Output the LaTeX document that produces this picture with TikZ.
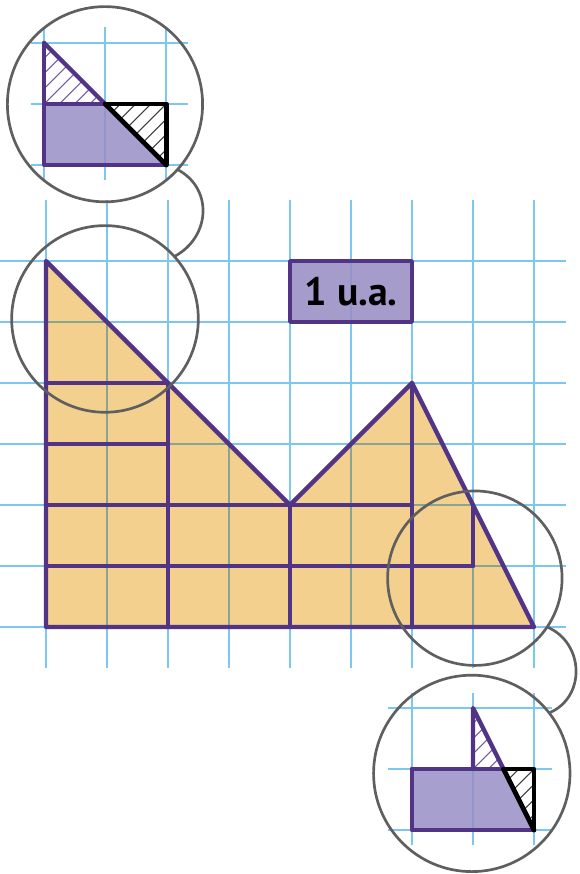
\documentclass[tikz,border=0pt]{standalone}
\usepackage{fontspec}
\setmainfont{PT Sans}
\definecolor{gridblue}{RGB}{125,198,240}
\definecolor{gridin}{RGB}{135,165,145}
\definecolor{pur}{RGB}{82,52,135}
\definecolor{lav}{RGB}{152,142,197}
\definecolor{ora}{RGB}{243,208,142}
\definecolor{ring}{RGB}{95,95,95}
\definecolor{hatchp}{RGB}{110,90,165}
\definecolor{hatchk}{RGB}{60,60,60}
\tikzset{
  gridline/.style={draw=gridblue, line width=0.7pt},
  gridinner/.style={draw=gridin, line width=0.7pt},
  purline/.style={draw=pur, line width=2pt, line cap=round},
  blackline/.style={draw=black, line width=2.2pt, line cap=round},
  hatchpur/.style={draw=hatchp, line width=0.5pt},
  hatchblk/.style={draw=hatchk, line width=0.5pt},
  magring/.style={circle, draw=ring, line width=1.25pt, inner sep=0pt, outer sep=0pt},
  insetring/.style={circle, draw=ring, line width=1.25pt, inner sep=0pt, outer sep=0pt},
  ringline/.style={draw=ring, line width=1.25pt},
  labelbox/.style={draw=pur, line width=1.7pt, fill=lav, fill opacity=0.88, text opacity=1,
    minimum width=2cm, minimum height=1cm, inner sep=0pt, font=\fontsize{18.5}{20}\selectfont\bfseries, text=black}
}
\begin{document}
\begin{tikzpicture}[x=1cm,y=1cm,line join=round]
\useasboundingbox (-0.7541,-4.0492) rectangle (8.7541,10.2787);

% main grid
\foreach \i in {0,...,8} \draw[gridline] (\i,-0.68) -- (\i,7.0);
\foreach \j in {0,...,6} \draw[gridline] (-0.76,\j) -- (8.52,\j);

% main shape
\fill[ora] (0,6) -- (4,2) -- (6,4) -- (8,0) -- (0,0) -- cycle;
\begin{scope}
  \clip (0,6) -- (4,2) -- (6,4) -- (8,0) -- (0,0) -- cycle;
  \foreach \i in {0,...,8} \draw[gridinner] (\i,-0.68) -- (\i,7.0);
  \foreach \j in {0,...,6} \draw[gridinner] (-0.76,\j) -- (8.52,\j);
\end{scope}
\draw[purline] (0,4) -- (2,4);
\draw[purline] (0,3) -- (2,3);
\draw[purline] (0,2) -- (6,2);
\draw[purline] (0,1) -- (7,1);
\draw[purline] (2,0) -- (2,4);
\draw[purline] (4,0) -- (4,2);
\draw[purline] (6,0) -- (6,4);
\draw[purline] (7,1) -- (7,2);
\draw[purline] (0,6) -- (4,2) -- (6,4) -- (8,0) -- (0,0) -- cycle;

% label
\node[labelbox] (ua) at (5,5.5) {1 u.a.};

% magnifier rings on the figure
\node[magring, minimum size=3.06cm] (m1) at (0.967,5.05) {};
\node[magring, minimum size=2.86cm] (m2) at (7.03,0.80) {};

% top inset
\begin{scope}[shift={(-0.03,7.574)}]
  \foreach \i in {0,1,2} \draw[gridline] (\i,-0.25) -- (\i,2.26);
  \foreach \j in {0,1,2} \draw[gridline] (-0.22,\j) -- (2.35,\j);
  \fill[lav, fill opacity=0.85] (0,0) -- (2,0) -- (1,1) -- (0,1) -- cycle;
  \begin{scope}
    \clip (0,2) -- (0,1) -- (1,1) -- cycle;
    \foreach \k in {-2.25,-2,...,2.25} \draw[hatchpur] (\k,0) -- ++(3,3);
  \end{scope}
  \begin{scope}
    \clip (1,1) -- (2,1) -- (2,0) -- cycle;
    \foreach \k in {-2.25,-2,...,2.25} \draw[hatchblk] (\k,0) -- ++(3,3);
  \end{scope}
  \draw[purline] (0,2) -- (0,0) -- (2,0);
  \draw[purline] (0,1) -- (1,1);
  \draw[purline] (0,2) -- (1,1);
  \draw[blackline] (1,1) -- (2,1) -- (2,0);
  \draw[blackline] (1,1) -- (2,0);
\end{scope}
\node[insetring, minimum size=3.2cm] (i1) at (0.967,8.57) {};

% bottom inset
\begin{scope}[shift={(6,-3.328)}]
  \foreach \i in {0,1,2} \draw[gridline] (\i,-0.25) -- (\i,2.25);
  \foreach \j in {0,1,2} \draw[gridline] (-0.4,\j) -- (2.3,\j);
  \fill[lav, fill opacity=0.85] (0,0) -- (2,0) -- (1.5,1) -- (0,1) -- cycle;
  \begin{scope}
    \clip (1,2) -- (1,1) -- (1.5,1) -- cycle;
    \foreach \k in {-2.25,-2,...,2.25} \draw[hatchpur] (\k,0) -- ++(3,3);
  \end{scope}
  \begin{scope}
    \clip (1.5,1) -- (2,1) -- (2,0) -- cycle;
    \foreach \k in {-2.25,-2,...,2.25} \draw[hatchblk] (\k,0) -- ++(3,3);
  \end{scope}
  \draw[purline] (0,1) -- (0,0) -- (2,0);
  \draw[purline] (0,1) -- (1.5,1);
  \draw[purline] (1,1) -- (1,2) -- (1.5,1);
  \draw[blackline] (1.5,1) -- (2,1) -- (2,0);
  \draw[blackline] (1.5,1) -- (2,0);
\end{scope}
\node[insetring, minimum size=3.22cm] (i2) at (6.98,-2.40) {};

% connectors
\draw[ringline] (i1.-42) to[out=-28,in=28,looseness=1.2] (m1.42);
\draw[ringline] (m2.-34) to[out=-23,in=23,looseness=1.2] (i2.38);
\end{tikzpicture}
\end{document}
